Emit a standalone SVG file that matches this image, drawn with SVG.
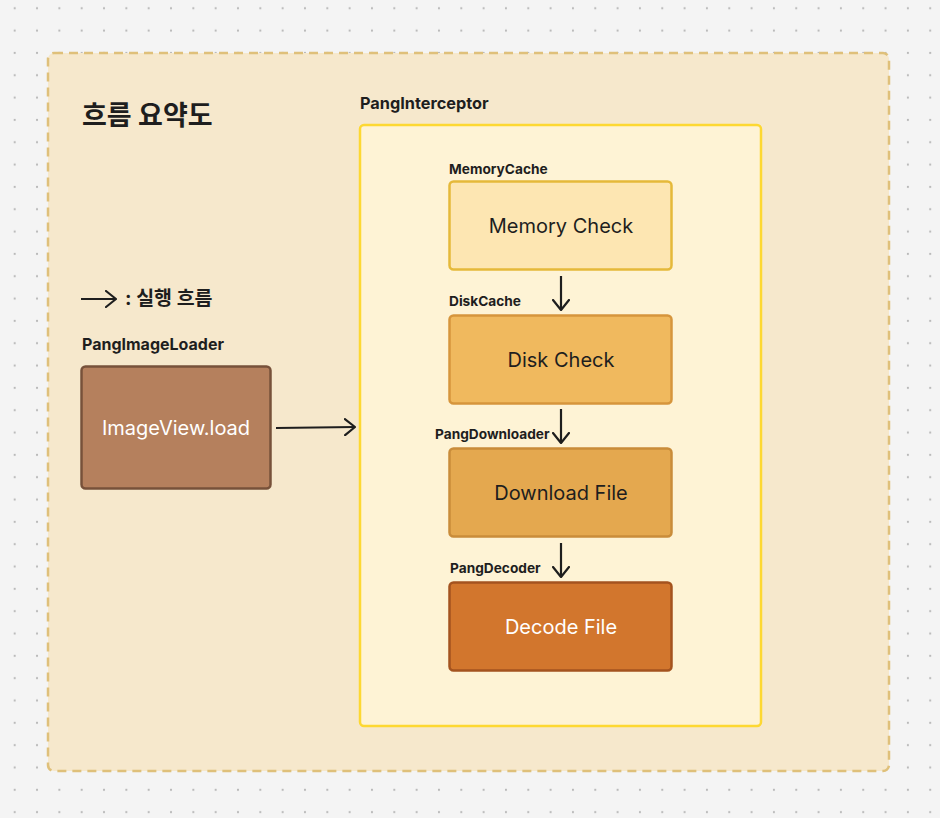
<svg xmlns="http://www.w3.org/2000/svg" width="940" height="818" viewBox="0 0 940 818">
<defs>
<pattern id="dots" x="14.7" y="8.3" width="22.33" height="22.33" patternUnits="userSpaceOnUse">
<circle cx="0" cy="0" r="1.1" fill="#b8b8b8"/>
<circle cx="22.33" cy="0" r="1.1" fill="#b8b8b8"/>
<circle cx="0" cy="22.33" r="1.1" fill="#b8b8b8"/>
<circle cx="22.33" cy="22.33" r="1.1" fill="#b8b8b8"/>
</pattern>
<marker id="arr" viewBox="0 0 12 18" refX="11" refY="9" markerWidth="12" markerHeight="18" markerUnits="userSpaceOnUse" orient="auto">
<path d="M1,1 L11,9 L1,17" fill="none" stroke="#1e1e1e" stroke-width="2.2" stroke-linecap="round" stroke-linejoin="round"/>
</marker>
<style>
text{font-family:Inter,"Noto Sans CJK KR","Noto Sans",sans-serif;fill:#1e1e1e}
.lbl{font-size:13.7px;font-weight:700}
.node{font-size:20px;text-anchor:middle}
.w{fill:#ffffff}
.conn{stroke:#1e1e1e;stroke-width:2.2;fill:none;marker-end:url(#arr)}
</style>
</defs>
<rect width="940" height="818" fill="#f4f4f4"/>
<rect width="940" height="818" fill="url(#dots)"/>
<g id="frame">
<rect x="48" y="53" width="841" height="718" rx="6" fill="#f6e8cc" stroke="#dfc07a" stroke-width="2.5" stroke-dasharray="9 6"/>
<text x="82" y="125" font-size="27" font-weight="700">흐름 요약도</text>
</g>
<g id="legend">
<line x1="81" y1="299" x2="116" y2="299" class="conn"/>
<text x="125" y="305" font-size="19.5" font-weight="700">: 실행 흐름</text>
</g>
<g id="interceptor">
<rect x="360" y="125" width="401" height="601" rx="4" fill="#fef3d5" stroke="#fdd832" stroke-width="2.5"/>
<text x="360" y="109" font-size="16.3" font-weight="700">PangInterceptor</text>
</g>
<g id="loader">
<text x="82" y="350" font-size="16" font-weight="700">PangImageLoader</text>
<rect x="81.5" y="366.5" width="189" height="122" rx="4" fill="#b5805d" stroke="#77513a" stroke-width="2.5"/>
<text x="176" y="435" class="node w">ImageView.load</text>
</g>
<g id="memory">
<text x="449" y="174" class="lbl">MemoryCache</text>
<rect x="449.5" y="181.5" width="222" height="88" rx="4" fill="#fde6b2" stroke="#e5b93a" stroke-width="2.5"/>
<text x="561" y="233" class="node">Memory Check</text>
</g>
<g id="disk">
<text x="449" y="306" class="lbl">DiskCache</text>
<rect x="449.5" y="315.5" width="222" height="88" rx="4" fill="#f0b95e" stroke="#d6953c" stroke-width="2.5"/>
<text x="561" y="367" class="node">Disk Check</text>
</g>
<g id="download">
<text x="435" y="439" class="lbl">PangDownloader</text>
<rect x="449.5" y="448.5" width="222" height="88" rx="4" fill="#e4a84f" stroke="#c98c3a" stroke-width="2.5"/>
<text x="561" y="500" class="node">Download File</text>
</g>
<g id="decode">
<text x="450" y="573" class="lbl">PangDecoder</text>
<rect x="449.5" y="582.5" width="222" height="88" rx="4" fill="#d2762d" stroke="#a4531f" stroke-width="2.5"/>
<text x="561" y="634" class="node w">Decode File</text>
</g>
<g id="connectors">
<line x1="276" y1="428" x2="355" y2="427" class="conn"/>
<line x1="561" y1="276" x2="561" y2="310" class="conn"/>
<line x1="561" y1="409" x2="561" y2="443" class="conn"/>
<line x1="561" y1="543" x2="561" y2="577" class="conn"/>
</g>
</svg>
